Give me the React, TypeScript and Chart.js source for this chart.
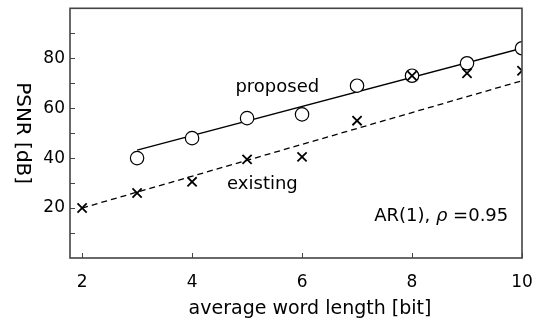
import React, { useEffect, useRef } from "react";
import { Chart, registerables } from "chart.js";

Chart.register(...registerables);

const proposedX = [3, 4, 5, 6, 7, 8, 9, 10];
const proposedPSNR = [40, 48, 56, 57.5, 69, 73, 78, 84];
const existingX = [2, 3, 4, 5, 6, 7, 8, 9, 10];
const existingPSNR = [20, 26, 30.5, 39.5, 40.5, 55, 73, 74, 75];
const proposedFitX = [3, 10];
const proposedFitY = [43.2, 84];
const existingFitX = [2, 10];
const existingFitY = [20, 71];
const xTickValues = [2, 4, 6, 8, 10];
const yTickValues = [20, 40, 60, 80];
const yMinorTickValues = [10, 30, 50, 70, 90];

const FONT = "'DejaVu Sans', sans-serif";
const FRAME = "#444";

const pts = (xs: number[], ys: number[]) => xs.map((x, i) => ({ x, y: ys[i] }));

const decorPlugin = {
  id: "decor",
  afterDraw(chart: any) {
    const { ctx, chartArea: a, scales } = chart;
    const xs = scales.x;
    const ys = scales.y;
    ctx.save();
    ctx.strokeStyle = FRAME;
    ctx.lineWidth = 1.6;
    ctx.strokeRect(a.left, a.top, a.right - a.left, a.bottom - a.top);
    ctx.lineWidth = 1;
    ctx.beginPath();
    [...yTickValues, ...yMinorTickValues].forEach((v) => {
      const y = Math.round(ys.getPixelForValue(v)) + 0.5;
      ctx.moveTo(a.left, y);
      ctx.lineTo(a.left + 5, y);
    });
    xTickValues.forEach((v) => {
      const x = Math.round(xs.getPixelForValue(v)) + 0.5;
      ctx.moveTo(x, a.bottom);
      ctx.lineTo(x, a.bottom - 5);
    });
    ctx.stroke();
    ctx.fillStyle = "#000";
    ctx.font = `18px ${FONT}`;
    ctx.textBaseline = "middle";
    ctx.textAlign = "center";
    ctx.fillText("proposed", xs.getPixelForValue(5.55), ys.getPixelForValue(68.3));
    ctx.fillText("existing", xs.getPixelForValue(5.28), ys.getPixelForValue(29.5));
    const rightX = xs.getPixelForValue(9.75);
    const yAR = ys.getPixelForValue(16.8);
    const p1 = "AR(1), ";
    const p2 = "\u03c1";
    const p3 = " =0.95";
    const f = `18px ${FONT}`;
    const fi = `italic 18px ${FONT}`;
    ctx.font = f;
    const w1 = ctx.measureText(p1).width;
    const w3 = ctx.measureText(p3).width;
    ctx.font = fi;
    const w2 = ctx.measureText(p2).width;
    const x0 = rightX - (w1 + w2 + w3);
    ctx.textAlign = "left";
    ctx.font = f;
    ctx.fillText(p1, x0, yAR);
    ctx.font = fi;
    ctx.fillText(p2, x0 + w1, yAR);
    ctx.font = f;
    ctx.fillText(p3, x0 + w1 + w2, yAR);
    ctx.textAlign = "center";
    ctx.font = `19px ${FONT}`;
    ctx.fillText("average word length [bit]", 310, 309);
    ctx.save();
    ctx.translate(22, (a.top + a.bottom) / 2);
    ctx.rotate(Math.PI / 2);
    ctx.font = `20px ${FONT}`;
    ctx.fillText("PSNR [dB]", 0, 0);
    ctx.restore();
    ctx.restore();
  },
};

export default function App() {
  const ref = useRef<HTMLCanvasElement>(null);
  useEffect(() => {
    if (!ref.current) return;
    const chart = new Chart(ref.current, {
      type: "scatter",
      data: {
        datasets: [
          {
            label: "existing",
            data: pts(existingX, existingPSNR),
            pointStyle: "crossRot",
            pointRadius: 6.5,
            pointBorderWidth: 1.8,
            borderColor: "#000",
            backgroundColor: "#000",
            showLine: false,
            order: 0,
          },
          {
            label: "proposed",
            data: pts(proposedX, proposedPSNR),
            pointStyle: "circle",
            pointRadius: 6.7,
            pointBorderWidth: 1.2,
            borderColor: "#000",
            backgroundColor: "#fff",
            showLine: false,
            order: 1,
          },
          {
            label: "proposed fit",
            data: pts(proposedFitX, proposedFitY),
            showLine: true,
            pointRadius: 0,
            borderColor: "#000",
            borderWidth: 1.3,
            order: 2,
          },
          {
            label: "existing fit",
            data: pts(existingFitX, existingFitY),
            showLine: true,
            pointRadius: 0,
            borderColor: "#000",
            borderWidth: 1.3,
            borderDash: [6, 4],
            order: 2,
          },
        ],
      },
      options: {
        responsive: false,
        animation: false,
        layout: { padding: { top: 5, right: 14, left: 0, bottom: 0 } },
        plugins: { legend: { display: false }, tooltip: { enabled: false } },
        scales: {
          x: {
            type: "linear",
            min: 1.78,
            max: 10,
            grid: { display: false, drawTicks: false },
            border: { display: false },
            afterBuildTicks: (s: any) => {
              s.ticks = xTickValues.map((v) => ({ value: v }));
            },
            afterFit: (s: any) => {
              s.height = 62;
              s.paddingLeft = 0;
              s.paddingRight = 0;
            },
            ticks: {
              color: "#000",
              font: { family: FONT, size: 17 },
              padding: 14,
              maxRotation: 0,
              callback: (v: any) => String(v),
            },
          },
          y: {
            type: "linear",
            min: 0,
            max: 100,
            grid: { display: false, drawTicks: false },
            border: { display: false },
            afterBuildTicks: (s: any) => {
              s.ticks = yTickValues.map((v) => ({ value: v }));
            },
            afterFit: (s: any) => {
              s.width = 70;
              s.paddingTop = 0;
              s.paddingBottom = 0;
            },
            ticks: {
              color: "#000",
              font: { family: FONT, size: 17 },
              padding: 5,
              callback: (v: any) => String(v),
            },
          },
        },
      },
      plugins: [decorPlugin],
    });
    return () => chart.destroy();
  }, []);
  return (
    <div style={{ position: "absolute", left: 0, top: 0, width: 536, height: 320, background: "#fff" }}>
      <canvas ref={ref} width={536} height={320} />
    </div>
  );
}
